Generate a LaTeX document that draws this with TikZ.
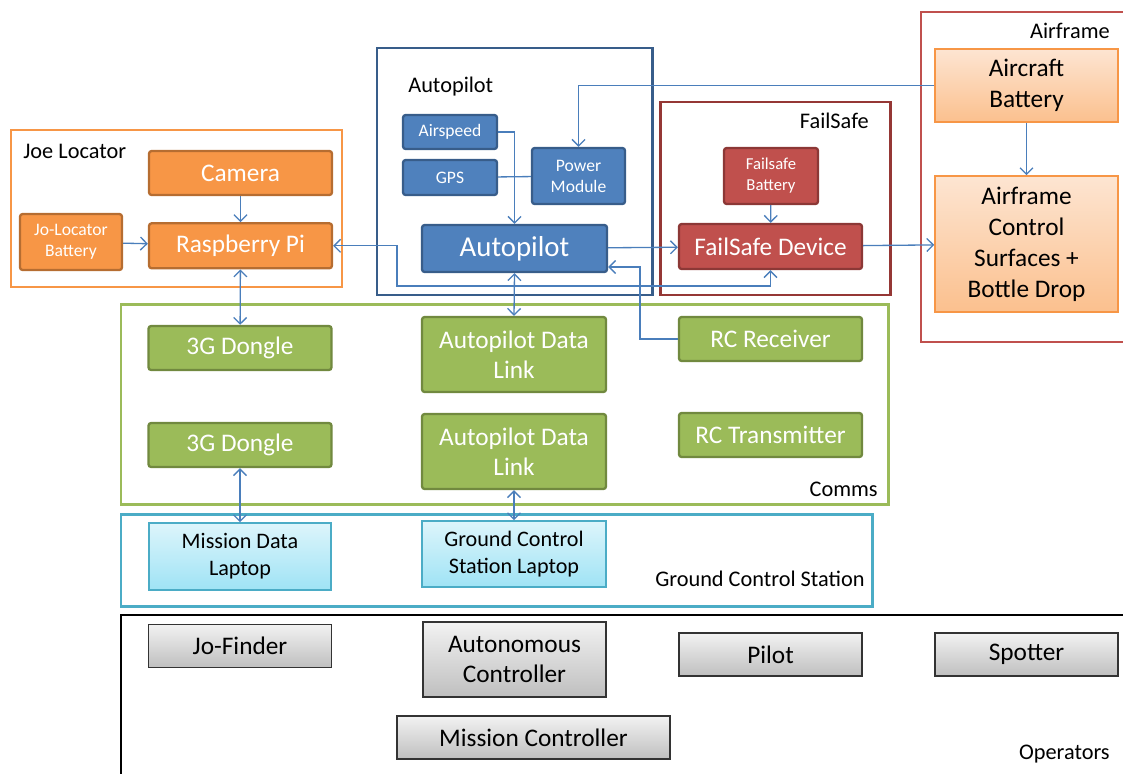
\documentclass[tikz,border=0pt]{standalone}
\usepackage{fontspec}
\setmainfont{Carlito}
\definecolor{bluefill}{HTML}{4F81BD}
\definecolor{blueedge}{HTML}{385D8A}
\definecolor{orangefill}{HTML}{F79646}
\definecolor{orangeedge}{HTML}{B66D31}
\definecolor{redfill}{HTML}{C0504D}
\definecolor{rededge}{HTML}{8C3836}
\definecolor{failframe}{HTML}{953735}
\definecolor{greenfill}{HTML}{9BBB59}
\definecolor{greenedge}{HTML}{71893F}
\definecolor{cyanframe}{HTML}{4BACC6}
\definecolor{cyantop}{HTML}{DDF5FB}
\definecolor{cyanbot}{HTML}{9FE3F5}
\definecolor{peachtop}{HTML}{FDE5D2}
\definecolor{peachbot}{HTML}{FBC08E}
\definecolor{graytop}{HTML}{F2F2F2}
\definecolor{graybot}{HTML}{BFBFBF}
\definecolor{linkblue}{HTML}{4A7EBB}
\usepackage{tikz}
\usetikzlibrary{arrows.meta,positioning}

\begin{document}
\begin{tikzpicture}[
  x=0.2mm, y=-0.2mm,
  every node/.style={font=\fontsize{14.4}{17.4}\selectfont},
  wh/.style 2 args={minimum width=#1, minimum height=#2},
  bluebox/.style={
    rectangle, rounded corners=1.5pt,
    draw=blueedge, line width=1.3pt,
    fill=bluefill, text=white,
    align=center, inner sep=0pt,
    font=\fontsize{10}{12}\selectfont},
  orangebox/.style={
    rectangle, rounded corners=1.5pt,
    draw=orangeedge, line width=1.3pt,
    fill=orangefill, text=white,
    align=center, inner sep=0pt},
  redbox/.style={
    rectangle, rounded corners=1.5pt,
    draw=rededge, line width=1.3pt,
    fill=redfill, text=white,
    align=center, inner sep=0pt},
  greenbox/.style={
    rectangle, rounded corners=1.5pt,
    draw=greenedge, line width=1.3pt,
    fill=greenfill, text=white,
    align=center, inner sep=0pt,
    wh={36.6mm}{8.8mm}},
  peachbox/.style={
    rectangle, draw=orangefill, line width=0.9pt,
    top color=peachtop, bottom color=peachbot,
    align=center, inner sep=0pt,
    font=\fontsize{14.4}{17.6}\selectfont},
  laptop/.style={
    rectangle, draw=cyanframe, line width=0.9pt,
    top color=cyantop, bottom color=cyanbot,
    align=center, inner sep=0pt,
    font=\fontsize{12.6}{15.4}\selectfont},
  oper/.style={
    rectangle, draw=black!80, line width=0.9pt,
    top color=graytop, bottom color=graybot,
    align=center, inner sep=0pt,
    wh={36.6mm}{8.6mm}},
  grp/.style={line width=1.6pt},
  grplbl/.style={font=\fontsize{12.7}{15}\selectfont, inner sep=0pt},
  link/.style={draw=linkblue, line width=0.75pt, ->},
  dlink/.style={link, <->},
  >={Straight Barb[length=1.3mm, width=2.6mm]}
]
  \useasboundingbox (0,0) rectangle (1123,773);

  %% ── Joe Locator ───────────────────────────────────────────
  \draw[grp, draw=orangefill, line width=1.4pt] (11,130) rectangle (342,287);
  \node[grplbl, anchor=west](ljoe) at (23,151) {Joe Locator};
  \node[orangebox, wh={36.6mm}{8.8mm}](cam) at (240.5,173) {Camera};
  \node[orangebox, wh={36.6mm}{9mm}, below=5.2mm of cam](rpi) {Raspberry Pi};
  \node[orangebox, wh={20.4mm}{11.2mm}, font=\fontsize{10}{12}\selectfont](jobat)
    at (71,242) {Jo-Locator\\Battery};

  %% ── Autopilot ─────────────────────────────────────────────
  \draw[grp, draw=blueedge, line width=1.7pt] (377,48) rectangle (652,295);
  \node[grplbl, anchor=west](lap) at (408,87) {Autopilot};
  \node[bluebox, wh={18.8mm}{6.8mm}](asp) at (450,132) {Airspeed};
  \node[bluebox, wh={18.8mm}{7mm}](gps) at (450,177.5) {GPS};
  \node[bluebox, wh={18.6mm}{11.2mm}](pm) at (578.5,176) {Power\\Module};
  \node[bluebox, wh={37mm}{9.4mm}, font=\fontsize{16.4}{19}\selectfont](ap)
    at (514.5,248.5) {Autopilot};

  %% ── FailSafe ──────────────────────────────────────────────
  \draw[grp, draw=failframe, line width=1.7pt] (660,102) rectangle (890,295);
  \node[grplbl, anchor=east](lfs) at (869,121) {FailSafe};
  \node[redbox, wh={18.8mm}{11.2mm}, font=\fontsize{9.5}{12}\selectfont](fsb)
    at (771,176) {Failsafe\\Battery};
  \node[redbox, wh={36.6mm}{9mm}](fsd) at (770.5,246.5) {FailSafe Device};

  %% ── Airframe ──────────────────────────────────────────────
  \draw[grp, draw=redfill, line width=1.1pt] (921,12) rectangle (1135,342);
  \node[grplbl, anchor=east](laf) at (1110,31) {Airframe};
  \node[peachbox, wh={36.6mm}{14.6mm}](abat) at (1026.5,85.5) {Aircraft\\Battery};
  \node[peachbox, wh={36.6mm}{27.2mm}](acs) at (1026.5,244)
    {Airframe\\Control\\Surfaces +\\Bottle Drop};

  %% ── Comms ─────────────────────────────────────────────────
  \draw[grp, draw=greenfill, line width=1.7pt] (121,304) rectangle (888,504);
  \node[grplbl, anchor=east](lcom) at (878,489) {Comms};
  \node[greenbox](g3a) at (240,348) {3G Dongle};
  \node[greenbox, wh={36.8mm}{15mm}](adla) at (514,354.5) {Autopilot Data\\Link};
  \node[greenbox](rcrx) at (770.5,339) {RC Receiver};
  \node[greenbox](g3b) at (240,445) {3G Dongle};
  \node[greenbox, wh={36.8mm}{15mm}](adlb) at (514,451.5) {Autopilot Data\\Link};
  \node[greenbox](rctx) at (770.5,435) {RC Transmitter};

  %% ── Ground Control Station ────────────────────────────────
  \draw[grp, draw=cyanframe, line width=1.7pt] (121,514) rectangle (872,606);
  \node[grplbl, anchor=east](lgcs) at (865,579) {Ground Control Station};
  \node[laptop, wh={36.4mm}{13.4mm}](mdl) at (240,556.5) {Mission Data\\Laptop};
  \node[laptop, wh={36.8mm}{13.2mm}](gcsl) at (514,554) {Ground Control\\Station Laptop};

  %% ── Operators ─────────────────────────────────────────────
  \draw[grp, draw=black, line width=0.9pt] (121,615) rectangle (1135,790);
  \node[grplbl, anchor=east](lop) at (1110,754) {Operators};
  \node[oper](jof) at (240,646) {Jo-Finder};
  \node[oper, wh={36.6mm}{15mm}, font=\fontsize{14.4}{17}\selectfont](actl)
    at (514.5,659.5) {Autonomous\\Controller};
  \node[oper](pil) at (770.5,654.5) {Pilot};
  \node[oper](spt) at (1026.5,654.5) {Spotter};
  \node[oper, wh={54.6mm}{8.6mm}](mctl) at (533.5,737.5) {Mission Controller};

  %% ── Conexiones ────────────────────────────────────────────
  \coordinate (jog) at (397,286);
  \coordinate (rcj) at (640,267);
  \draw[link] (cam) -- (rpi);
  \draw[link] (jobat) -- (rpi);
  \draw[dlink] (rpi) -- (g3a);
  \draw[dlink] (rpi.east) -| (jog) -| (fsd.south);
  \draw[link] (asp.east) -| (ap.north);
  \draw[draw=linkblue, line width=0.75pt] (gps) -- (pm);
  \draw[link] (abat.west) -| (pm.north);
  \draw[link] (ap) -- (fsd);
  \draw[link] (fsd) -- (acs);
  \draw[link] (abat) -- (acs);
  \draw[link] (fsb) -- (fsd);
  \draw[dlink] (ap.south) -- (adla.north);
  \draw[link] (rcrx.west) -| (rcj) -- (ap.east |- rcj);
  \draw[dlink] (g3b) -- (mdl);
  \draw[dlink] (adlb.south) -- (gcsl.north);

\end{tikzpicture}
\end{document}
